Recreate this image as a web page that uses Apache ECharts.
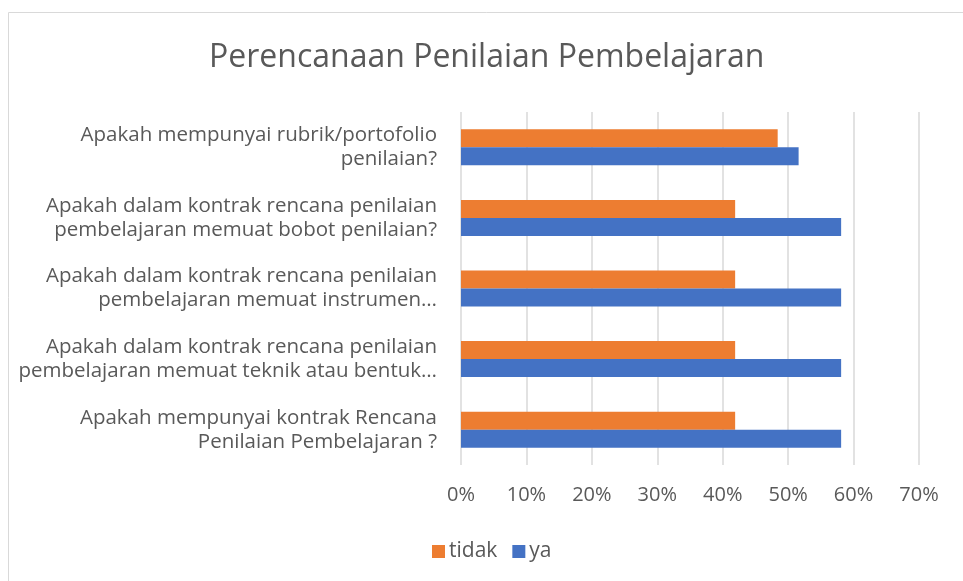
<!DOCTYPE html>
<html>
<head>
<meta charset="utf-8">
<script src="https://cdn.jsdelivr.net/npm/echarts@6/dist/echarts.min.js"></script>
<style>
  html, body { margin: 0; padding: 0; background: #fff; }
  #chart { width: 963px; height: 581px; }
</style>
</head>
<body>
<div id="chart"></div>
<script>
const categories = [
  'Apakah mempunyai rubrik/portofolio\npenilaian?',
  'Apakah dalam kontrak rencana penilaian\npembelajaran memuat bobot penilaian?',
  'Apakah dalam kontrak rencana penilaian\npembelajaran memuat instrumen…',
  'Apakah dalam kontrak rencana penilaian\npembelajaran memuat teknik atau bentuk…',
  'Apakah mempunyai kontrak Rencana\nPenilaian Pembelajaran ?'
];
const tidakValues = [48.4, 41.9, 41.9, 41.9, 41.9];
const yaValues = [51.6, 58.1, 58.1, 58.1, 58.1];
const xTicks = [0, 10, 20, 30, 40, 50, 60, 70];

const font = 'Open Sans';
const textColor = '#595959';

const chart = echarts.init(document.getElementById('chart'));
chart.setOption({
  animation: false,
  color: ['#ED7D31', '#4472C4'],
  graphic: [{
    type: 'rect',
    shape: { x: 8.5, y: 12.5, width: 1000, height: 1000 },
    style: { fill: 'none', stroke: '#D9D9D9', lineWidth: 1 },
    silent: true
  }],
  title: {
    text: 'Perencanaan Penilaian Pembelajaran',
    left: 204,
    top: 37,
    textStyle: { fontFamily: font, fontSize: 32, fontWeight: 'normal', color: textColor }
  },
  legend: {
    bottom: 14,
    left: 427,
    itemWidth: 13,
    itemHeight: 13,
    itemGap: 15,
    icon: 'rect',
    textStyle: { fontFamily: font, fontSize: 21, color: textColor, padding: [0, 0, 0, -1] }
  },
  grid: { left: 461, right: 44, top: 112, bottom: 116 },
  xAxis: {
    type: 'value',
    min: xTicks[0],
    max: xTicks[xTicks.length - 1],
    interval: 10,
    axisLine: { show: false },
    axisTick: { show: false },
    axisLabel: {
      formatter: '{value}%',
      margin: 20,
      fontFamily: font,
      fontSize: 20,
      color: textColor
    },
    splitLine: { lineStyle: { color: '#D9D9D9', width: 1.5 } }
  },
  yAxis: {
    type: 'category',
    inverse: true,
    data: categories,
    axisLine: { show: false },
    axisTick: { show: false },
    axisLabel: {
      margin: 24,
      fontFamily: font,
      fontSize: 20.5,
      lineHeight: 24,
      color: textColor,
      align: 'right'
    }
  },
  series: [
    {
      name: 'tidak',
      type: 'bar',
      data: tidakValues,
      barGap: '0%',
      barCategoryGap: '49%'
    },
    {
      name: 'ya',
      type: 'bar',
      data: yaValues,
      barGap: '0%',
      barCategoryGap: '49%'
    }
  ]
});
</script>
</body>
</html>
